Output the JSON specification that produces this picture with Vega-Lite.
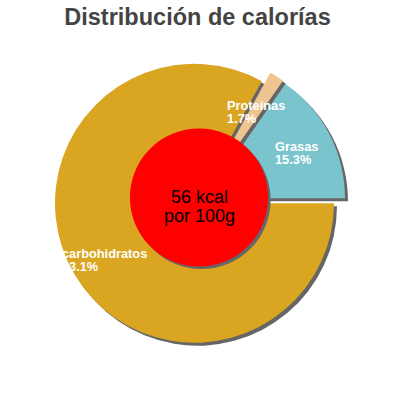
{
  "$schema": "https://vega.github.io/schema/vega-lite/v6.json",
  "width": 399,
  "height": 320,
  "autosize": "none",
  "padding": {"left": 0, "top": 40, "right": 0, "bottom": 0},
  "background": "white",
  "title": {
    "text": "Distribución de calorías",
    "font": "Liberation Sans",
    "fontSize": 23.5,
    "fontWeight": "bold",
    "color": "#444444",
    "anchor": "middle",
    "baseline": "alphabetic",
    "offset": -8.5,
    "dx": -2
  },
  "config": {"view": {"stroke": null}},
  "layer": [
    {
      "data": {
        "values": [
          {"nutriente": "carbohidratos", "pct": 83.1, "etiqueta": "carbohidratos\n83.1%"},
          {"nutriente": "Proteínas", "pct": 1.7, "etiqueta": "Proteínas\n1.7%"},
          {"nutriente": "Grasas", "pct": 15.3, "etiqueta": "Grasas\n15.3%"}
        ]
      },
      "encoding": {
        "theta": {"field": "pct", "type": "quantitative", "stack": true, "scale": {"range": [1.5708, 7.854]}},
        "order": {"field": "nutriente", "sort": "descending"}
      },
      "layer": [
        {
          "mark": {"type": "arc", "outerRadius": 139.5, "fill": "#666666", "xOffset": -2, "yOffset": 6.3},
          "encoding": {"opacity": {"condition": {"test": "datum.nutriente === 'carbohidratos'", "value": 1}, "value": 0}}
        },
        {
          "mark": {"type": "arc", "outerRadius": 139.5, "fill": "#666666", "xOffset": 6.5, "yOffset": -2},
          "encoding": {"opacity": {"condition": {"test": "datum.nutriente === 'Proteínas'", "value": 1}, "value": 0}}
        },
        {
          "mark": {"type": "arc", "outerRadius": 139.5, "fill": "#666666", "xOffset": 9, "yOffset": 1.3},
          "encoding": {"opacity": {"condition": {"test": "datum.nutriente === 'Grasas'", "value": 1}, "value": 0}}
        },
        {
          "mark": {"type": "arc", "outerRadius": 139.5, "fill": "#DAA520", "xOffset": -5, "yOffset": 3.3},
          "encoding": {"opacity": {"condition": {"test": "datum.nutriente === 'carbohidratos'", "value": 1}, "value": 0}}
        },
        {
          "mark": {"type": "arc", "outerRadius": 139.5, "fill": "#EEC591", "xOffset": 3.5, "yOffset": -5},
          "encoding": {"opacity": {"condition": {"test": "datum.nutriente === 'Proteínas'", "value": 1}, "value": 0}}
        },
        {
          "mark": {"type": "arc", "outerRadius": 139.5, "fill": "#7AC5CD", "xOffset": 6, "yOffset": -1.7},
          "encoding": {"opacity": {"condition": {"test": "datum.nutriente === 'Grasas'", "value": 1}, "value": 0}}
        },
        {
          "mark": {"type": "text", "radius": 109, "align": "left", "baseline": "middle", "lineBreak": "\n", "lineHeight": 13, "font": "Liberation Sans", "fontSize": 12.8, "fontWeight": "bold", "color": "white", "dx": -43.7, "dy": -1},
          "encoding": {"text": {"condition": {"test": "datum.nutriente === 'carbohidratos'", "field": "etiqueta"}, "value": ""}}
        },
        {
          "mark": {"type": "text", "radius": 109, "align": "left", "baseline": "middle", "lineBreak": "\n", "lineHeight": 13, "font": "Liberation Sans", "fontSize": 12.8, "fontWeight": "bold", "color": "white", "dx": -30.1, "dy": -1.5},
          "encoding": {"text": {"condition": {"test": "datum.nutriente === 'Proteínas'", "field": "etiqueta"}, "value": ""}}
        },
        {
          "mark": {"type": "text", "radius": 109, "align": "left", "baseline": "middle", "lineBreak": "\n", "lineHeight": 13, "font": "Liberation Sans", "fontSize": 12.8, "fontWeight": "bold", "color": "white", "dx": -21.2, "dy": -2.2},
          "encoding": {"text": {"condition": {"test": "datum.nutriente === 'Grasas'", "field": "etiqueta"}, "value": ""}}
        }
      ]
    },
    {
      "data": {"values": [{"texto": "56 kcal\npor 100g"}]},
      "layer": [
        {
          "mark": {"type": "circle", "size": 19100, "color": "#666666", "opacity": 1, "xOffset": 2, "yOffset": 0},
          "encoding": {}
        },
        {
          "mark": {"type": "circle", "size": 19100, "color": "#FF0000", "opacity": 1, "xOffset": -0.5, "yOffset": -2.5},
          "encoding": {}
        },
        {
          "mark": {"type": "text", "align": "center", "baseline": "middle", "lineBreak": "\n", "lineHeight": 19, "font": "Liberation Sans", "fontSize": 18, "color": "black", "dy": -2},
          "encoding": {"text": {"field": "texto", "type": "nominal"}}
        }
      ]
    }
  ]
}
